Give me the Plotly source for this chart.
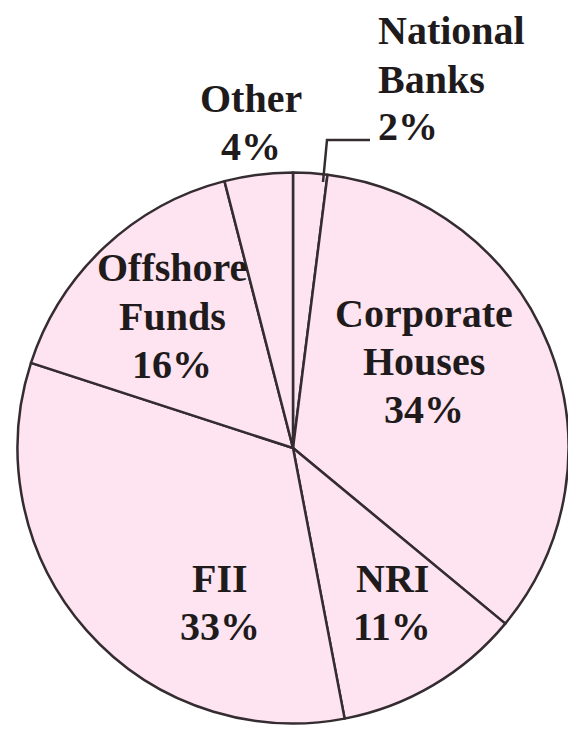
import plotly.graph_objects as go

# ---- data ----
labels = ["National Banks", "Corporate Houses", "NRI", "FII", "Offshore Funds", "Other"]
label_lines = [["National", "Banks"], ["Corporate", "Houses"], ["NRI"], ["FII"], ["Offshore", "Funds"], ["Other"]]
values = [2, 34, 11, 33, 16, 4]

# ---- layout constants (pixels in the 576x735 window) ----
OFF = 8  # browser default body margin
W, H = 576 - OFF, 735 - OFF
CX, CY, R = 293, 448, 275.5
FILL = "#fde4f0"
EDGE = "#342c30"
TXT = "#1f1b1c"
FONT = "Liberation Serif"
FSIZE = 40
LINE_GAP = 48
# (anchor x, first-line center y, xanchor) for each label block
label_pos = [
    (376, 31, "left"),
    (424, 313, "center"),
    (392, 578, "center"),
    (220, 578, "center"),
    (172, 268, "center"),
    (251, 98, "center"),
]
leader = [(323, 182), (327, 140), (370, 140)]


def px(x):
    return (x - OFF) / W


def py(y):
    return 1 - (y - OFF) / H


fig = go.Figure(
    go.Pie(
        labels=labels,
        values=values,
        sort=False,
        direction="clockwise",
        rotation=0,
        textinfo="none",
        hoverinfo="label+percent",
        marker=dict(colors=[FILL] * len(values), line=dict(color=EDGE, width=2.5)),
        domain=dict(x=[px(CX - R), px(CX + R)], y=[py(CY + R), py(CY - R)]),
        showlegend=False,
    )
)

annotations = []
for lines, v, (x, y0, xa) in zip(label_lines, values, label_pos):
    for i, t in enumerate(lines + [f"{v}%"]):
        annotations.append(
            dict(
                x=px(x), y=py(y0 + i * LINE_GAP), xref="paper", yref="paper",
                text=f"<b>{t}</b>", showarrow=False, xanchor=xa, yanchor="middle",
                font=dict(family=FONT, size=FSIZE, color=TXT),
            )
        )

path = "M " + " L ".join(f"{px(x)},{py(y)}" for x, y in leader)
fig.update_layout(
    width=W, height=H,
    margin=dict(l=0, r=0, t=0, b=0),
    paper_bgcolor="white", plot_bgcolor="white",
    annotations=annotations,
    shapes=[dict(type="path", path=path, xref="paper", yref="paper",
                 line=dict(color=EDGE, width=2.5))],
)

fig.write_html("out.html")
